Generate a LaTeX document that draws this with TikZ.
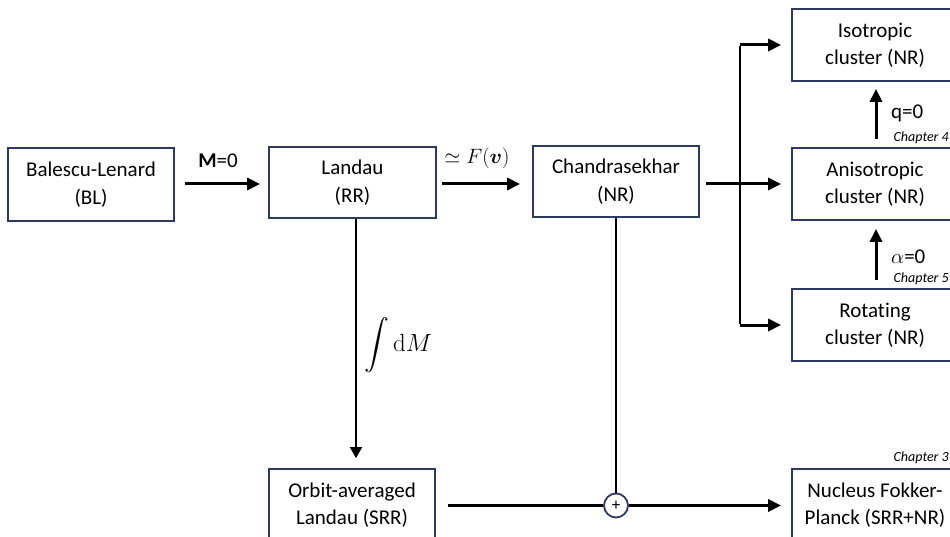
\documentclass[tikz,border=0pt]{standalone}
\usepackage{amsmath,bm}
\usepackage[no-math]{fontspec}
\setmainfont{Carlito}[Ligatures=NoCommon]
\usetikzlibrary{arrows.meta}
\definecolor{boxc}{HTML}{2E3B5E}
\tikzset{
  blk/.style={draw=boxc,line width=1.7pt,minimum width=166pt,minimum height=72pt,align=center,font=\fontsize{21}{27.5}\selectfont,inner sep=0pt,execute at begin node={\rule{0pt}{21pt}}},
  thick arr/.style={line width=3pt,-{Triangle[length=13pt,width=12pt]}},
  thin arr/.style={line width=1.7pt,-{Triangle[length=11pt,width=12pt]}},
  lbl/.style={font=\fontsize{21}{24}\selectfont,inner sep=0pt},
  chap/.style={font=\fontsize{14}{16}\selectfont\itshape,inner sep=0pt,anchor=east}
}
\begin{document}
\begin{tikzpicture}[x=1pt,y=-1pt]
\clip (0,0) rectangle (950,537);
\fill[white] (0,0) rectangle (950,537);
% boxes
\node[blk,minimum height=73pt] (BL) at (91,184.5) {Balescu-Lenard\\(BL)};
\node[blk,minimum width=167pt,minimum height=71pt] (LA) at (352.5,182.5) {Landau\\(RR)};
\node[blk,minimum height=71pt] (CH) at (616,181.5) {Chandrasekhar\\(NR)};
\node[blk] (ISO) at (875,45) {Isotropic\\cluster (NR)};
\node[blk] (ANI) at (875,184) {Anisotropic\\cluster (NR)};
\node[blk] (ROT) at (875,325) {Rotating\\cluster (NR)};
\node[blk] (OA) at (352,505) {Orbit-averaged\\Landau (SRR)};
\node[blk] (NFP) at (875,505) {Nucleus Fokker-\\Planck (SRR+NR)};
% sum circle
\node[draw=boxc,line width=1.8pt,circle,minimum size=24pt,inner sep=0pt,font=\fontsize{17}{17}\selectfont] (SUM) at (616,505.5) {+};
% top row arrows
\coordinate (row) at (0,184);
\draw[thick arr,shorten <=10pt,shorten >=8pt] (BL.east |- row) -- (LA.west |- row);
\node[lbl] (m0) at (218,161) {\textbf{M}=0};
\draw[thick arr,shorten <=5pt,shorten >=12pt] (LA.east |- row) -- (CH.west |- row);
\node[lbl] (fv) at (477,158) {$\simeq F(\boldsymbol{v})$};
\draw[thick arr,shorten <=6pt,shorten >=10pt] (CH.east |- ANI.west) -- (ANI.west);
% branch
\coordinate (br) at (740,184);
\draw[line width=2.6pt] ([yshift=-1.3pt]br |- ISO.west) -- ([yshift=1.3pt]br |- ROT.west);
\draw[thick arr,shorten >=10pt] (br |- ISO.west) -- (ISO.west);
\draw[thick arr,shorten >=10pt] (br |- ROT.west) -- (ROT.west);
% vertical arrows on right
\draw[thick arr,shorten <=8pt,shorten >=7pt] ([xshift=1pt]ANI.north) -- ([xshift=1pt]ISO.south);
\node[lbl,anchor=west] (q0) at (891,113) {q=0};
\node[chap] (c4) at (949,138) {Chapter 4};
\draw[thick arr,shorten <=8pt,shorten >=8pt] ([xshift=1pt]ROT.north) -- ([xshift=1pt]ANI.south);
\node[lbl,anchor=west] (a0) at (891,257) {$\alpha$=0};
\node[chap] (c5) at (949,279) {Chapter 5};
\node[chap] (c3) at (949,458) {Chapter 3};
% Landau down
\draw[thin arr,shorten >=10pt] ([xshift=3.5pt]LA.south) -- ([xshift=3.5pt]LA.south |- OA.north);
\node[font=\fontsize{24}{26}\selectfont,inner sep=0pt] (int) at (398,345) {$\displaystyle\int \mathrm{d}M$};
% Chandrasekhar down
\draw[line width=1.7pt] (CH.south) -- (SUM.north);
% bottom line
\draw[line width=3pt,shorten <=12pt] (OA.east |- SUM.west) -- (SUM.west);
\draw[thick arr,shorten >=10pt] (SUM.east) -- (NFP.west |- SUM.east);
\end{tikzpicture}
\end{document}
